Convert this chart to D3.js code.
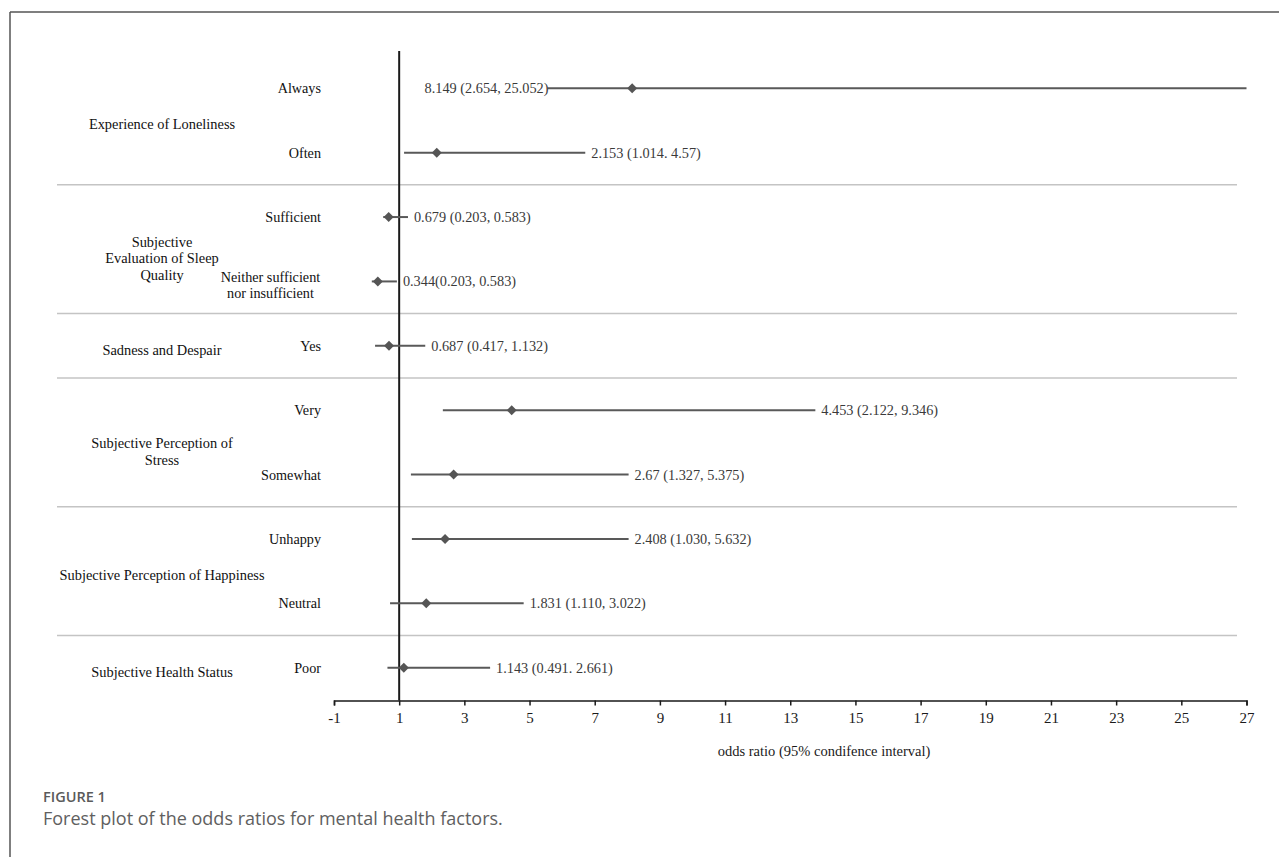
<!DOCTYPE html>
<html>
<head>
<meta charset="utf-8">
<script src="https://cdn.jsdelivr.net/npm/d3@7"></script>
<style>
  html, body { margin: 0; padding: 0; background: #fff; }
  svg { display: block; }
</style>
</head>
<body>
<svg id="chart" width="1279" height="857"></svg>
<script>
// ---- data ----
const groups = [
  "Experience of Loneliness",
  "Subjective|Evaluation of Sleep|Quality",
  "Sadness and Despair",
  "Subjective Perception of|Stress",
  "Subjective Perception of Happiness",
  "Subjective Health Status"
];
const rowLabels = ["Always", "Often", "Sufficient", "Neither sufficient|nor insufficient", "Yes",
  "Very", "Somewhat", "Unhappy", "Neutral", "Poor"];
const rowGroup = [0, 0, 1, 1, 2, 3, 3, 4, 4, 5];
const oddsRatio = [8.149, 2.153, 0.679, 0.344, 0.687, 4.453, 2.67, 2.408, 1.831, 1.143];
// interval ends as drawn in the picture
const drawnLow = [5.55, 1.15, 0.51, 0.16, 0.26, 2.34, 1.36, 1.39, 0.72, 0.64];
const drawnHigh = [27, 6.71, 1.27, 0.93, 1.80, 13.77, 8.04, 8.04, 4.82, 3.79];
const valueLabels = [
  "8.149 (2.654, 25.052)", "2.153 (1.014. 4.57)", "0.679 (0.203, 0.583)", "0.344(0.203, 0.583)",
  "0.687 (0.417, 1.132)", "4.453 (2.122, 9.346)", "2.67 (1.327, 5.375)", "2.408 (1.030, 5.632)",
  "1.831 (1.110, 3.022)", "1.143 (0.491. 2.661)"
];
// label placed left of the line for the first row only
const labelSide = ["left", "right", "right", "right", "right", "right", "right", "right", "right", "right"];
const tickValues = [-1, 1, 3, 5, 7, 9, 11, 13, 15, 17, 19, 21, 23, 25, 27];
const xTitle = "odds ratio (95% condifence interval)";
const captionHead = "FIGURE 1";
const captionText = "Forest plot of the odds ratios for mental health factors.";

// ---- layout ----
const svg = d3.select("#chart");
const serif = "'Liberation Serif', 'Times New Roman', serif";

// frame (top and left edges)
svg.append("line").attr("x1", 10).attr("x2", 1279).attr("y1", 12).attr("y2", 12)
  .attr("stroke", "#555").attr("stroke-width", 1.5);
svg.append("line").attr("x1", 10).attr("x2", 10).attr("y1", 12).attr("y2", 857)
  .attr("stroke", "#555").attr("stroke-width", 1.5);

const x = d3.scaleLinear().domain([-1, 27]).range([334, 1246.5]);
const y = d3.scalePoint().domain(d3.range(rowLabels.length)).range([88.3, 667.7]);
const axisY = 700.5;

// group separators
const seps = [];
for (let i = 0; i < rowGroup.length - 1; i++) {
  if (rowGroup[i] !== rowGroup[i + 1]) seps.push((y(i) + y(i + 1)) / 2);
}
svg.append("g").selectAll("line").data(seps).join("line")
  .attr("x1", 57).attr("x2", 1237).attr("y1", d => d).attr("y2", d => d)
  .attr("stroke", "#c4c4c4").attr("stroke-width", 1.5);

// reference line at OR = 1
svg.append("line").attr("x1", x(1)).attr("x2", x(1)).attr("y1", 51).attr("y2", axisY)
  .attr("stroke", "#1a1a1a").attr("stroke-width", 2);

// axis
const axis = d3.axisBottom(x).tickValues(tickValues).tickSize(5).tickSizeOuter(5).tickFormat(d3.format("d"));
const gAx = svg.append("g").attr("transform", `translate(0,${axisY})`).call(axis);
gAx.select(".domain").attr("stroke", "#1a1a1a").attr("stroke-width", 1.5);
gAx.selectAll(".tick line").attr("stroke", "#1a1a1a").attr("stroke-width", 1.5);
gAx.selectAll(".tick text").attr("font-family", serif).attr("font-size", 15)
  .attr("fill", "#1a1a1a").attr("dy", "0.71em").attr("y", 12);
gAx.selectAll(".tick text").text(d => d < 0 ? "-" + Math.abs(d) : d);

svg.append("text").attr("x", 824).attr("y", 756).attr("text-anchor", "middle")
  .attr("font-family", serif).attr("font-size", 14.5).attr("fill", "#1a1a1a").text(xTitle);

// CI lines
const rows = d3.range(rowLabels.length);
svg.append("g").selectAll("line").data(rows).join("line")
  .attr("x1", i => x(drawnLow[i])).attr("x2", i => x(drawnHigh[i]))
  .attr("y1", i => y(i)).attr("y2", i => y(i))
  .attr("stroke", "#595959").attr("stroke-width", 2);

// diamonds
svg.append("g").selectAll("path").data(rows).join("path")
  .attr("d", d3.symbol(d3.symbolSquare, 50))
  .attr("transform", i => `translate(${x(oddsRatio[i])},${y(i)}) rotate(45)`)
  .attr("fill", "#555");

// value labels
svg.append("g").selectAll("text").data(rows).join("text")
  .attr("x", i => labelSide[i] === "left" ? x(drawnLow[i]) + 1 : x(drawnHigh[i]) + 6)
  .attr("y", i => y(i) + 5)
  .attr("text-anchor", i => labelSide[i] === "left" ? "end" : "start")
  .attr("font-family", serif).attr("font-size", 14.3).attr("fill", "#3a3a3a")
  .text(i => valueLabels[i]);

// row labels (right aligned, multi-line centered)
const rowG = svg.append("g");
rows.forEach(i => {
  const lines = rowLabels[i].split("|");
  if (lines.length === 1) {
    rowG.append("text").attr("x", 321).attr("y", y(i) + 5).attr("text-anchor", "end")
      .attr("font-family", serif).attr("font-size", 14.2).attr("fill", "#111").text(lines[0]);
  } else {
    lines.forEach((ln, k) => {
      rowG.append("text").attr("x", 270.5).attr("y", y(i) + 0.5 + k * 15.6).attr("text-anchor", "middle")
        .attr("font-family", serif).attr("font-size", 14.2).attr("fill", "#111").text(ln);
    });
  }
});

// group labels
const grpG = svg.append("g");
groups.forEach((g, gi) => {
  const idx = rows.filter(i => rowGroup[i] === gi);
  const lines = g.split("|");
  const cy = d3.mean(idx, i => y(i)) + (lines.length > 1 ? 9 : 4);
  const lh = 16.5;
  lines.forEach((ln, k) => {
    grpG.append("text").attr("x", 162)
      .attr("y", cy + 5 + (k - (lines.length - 1) / 2) * lh)
      .attr("text-anchor", "middle").attr("font-family", serif).attr("font-size", 14.4)
      .attr("fill", "#111").text(ln);
  });
});

// caption
svg.append("text").attr("x", 43).attr("y", 802).attr("font-family", "'Open Sans', sans-serif")
  .attr("font-size", 14.5).attr("font-weight", 600).attr("fill", "#5a5a5a").text(captionHead);
svg.append("text").attr("x", 43).attr("y", 825).attr("font-family", "'Open Sans', sans-serif")
  .attr("font-size", 18).attr("fill", "#606060").text(captionText);
</script>
</body>
</html>
